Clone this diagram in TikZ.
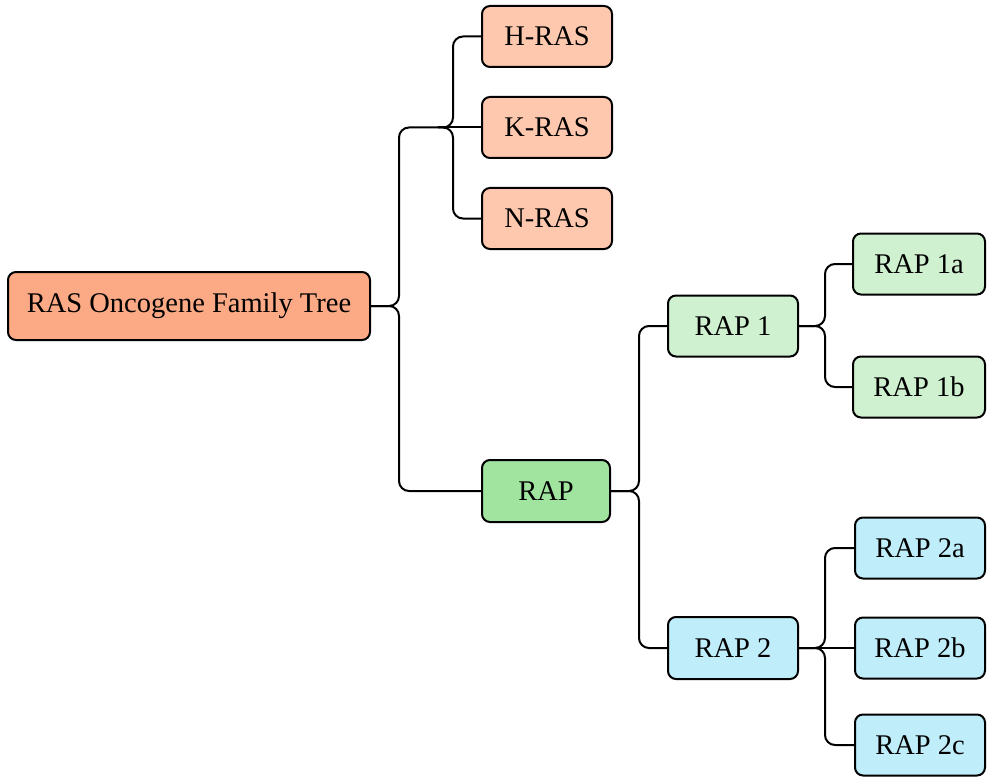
\documentclass[tikz,border=0pt]{standalone}
\usepackage{fontspec}
\setmainfont{Liberation Serif}

\definecolor{rootfill}{HTML}{FBAA85}
\definecolor{rasfill}{HTML}{FEC8AE}
\definecolor{rapfill}{HTML}{A0E4A0}
\definecolor{rapone}{HTML}{CFF1D0}
\definecolor{raptwo}{HTML}{C0EDFA}

\tikzset{
  box/.style={draw=black, line width=2pt, rounded corners=8pt,
    minimum width=130pt, minimum height=61pt, inner sep=0pt,
    font=\fontsize{28.5}{32}\selectfont},
  link/.style={draw=black, line width=2pt, rounded corners=10pt},
}

\begin{document}
\begin{tikzpicture}[x=1pt, y=-1pt]
  \useasboundingbox (0,0) rectangle (987,778);

  % --- root ---
  \node[box, fill=rootfill, minimum width=362pt, minimum height=68pt] (root) at (189,306) {RAS Oncogene Family Tree};

  % --- RAS branch ---
  \coordinate (ras) at (438,127.5);
  \node[box, fill=rasfill] (hras) at (547,36.5) {H-RAS};
  \node[box, fill=rasfill] (kras) at (547,127.5) {K-RAS};
  \node[box, fill=rasfill] (nras) at (547,218.5) {N-RAS};

  % --- RAP branch ---
  \node[box, fill=rapfill, minimum width=128pt, minimum height=62pt] (rap) at (546,491) {RAP};
  \node[box, fill=rapone] (rap1) at (733,326) {RAP 1};
  \node[box, fill=rapone, minimum width=132pt] (rap1a) at (919,264) {RAP 1a};
  \node[box, fill=rapone, minimum width=132pt] (rap1b) at (919,387) {RAP 1b};
  \node[box, fill=raptwo, minimum height=62pt] (rap2) at (733,648) {RAP 2};
  \node[box, fill=raptwo] (rap2a) at (920,548) {RAP 2a};
  \node[box, fill=raptwo] (rap2b) at (920,648) {RAP 2b};
  \node[box, fill=raptwo] (rap2c) at (920,745) {RAP 2c};

  % --- connectors ---
  \draw[link] (root.east) -- ++(28,0) |- (ras);
  \draw[link] (root.east) -- ++(28,0) |- (rap.west);
  \foreach \c in {hras,nras}
    \draw[link] (ras) -- ++(15,0) |- (\c.west);
  \draw[link] (ras) -- (kras.west);
  \foreach \c in {rap1,rap2}
    \draw[link] (rap.east) -- ++(28,0) |- (\c.west);
  \foreach \c in {rap1a,rap1b}
    \draw[link] (rap1.east) -- ++(26,0) |- (\c.west);
  \foreach \c in {rap2a,rap2c}
    \draw[link] (rap2.east) -- ++(26,0) |- (\c.west);
  \draw[link] (rap2.east) -- (rap2b.west);
\end{tikzpicture}
\end{document}
